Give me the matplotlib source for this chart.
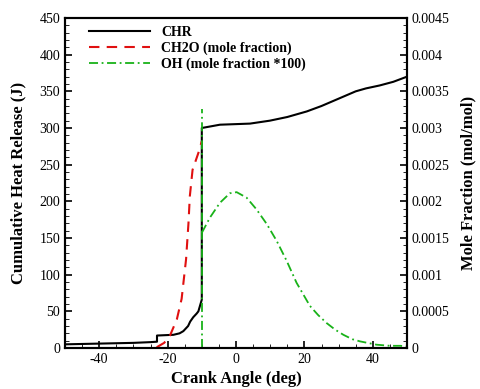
import matplotlib
matplotlib.use("Agg")
import matplotlib.pyplot as plt
from matplotlib.ticker import MultipleLocator

plt.rcParams['font.family'] = ['Liberation Serif', 'DejaVu Serif']
plt.rcParams['axes.unicode_minus'] = False

# CHR (J) vs crank angle
chr_x = [-50, -40, -30, -25, -23.1, -23.1, -18.3, -16.5, -15.4, -14, -13.4, -12.5, -11.5, -11, -10.5, -10,
         -10, -4.7, 1.2, 4.1, 9.9, 15, 20.7, 25, 30, 35, 38, 42, 46, 50]
chr_y = [5, 6, 7, 8, 8.6, 17, 18, 20, 23, 30, 36, 42, 47, 50, 58, 66,
         300, 304.5, 305.5, 306, 310, 315, 322.6, 330, 340, 350, 354, 358, 363, 370]

# CH2O mole fraction
ch2o_x = [-23.2, -21, -19.3, -17.3, -15.9, -14.6, -13.9, -13.5, -12.7, -11, -10]
ch2o_y = [0.00001, 0.00007, 0.00017, 0.00039, 0.00067, 0.00121, 0.00170, 0.00207, 0.00243, 0.00266, 0.00282]

# OH mole fraction *100
oh_spike_x = [-10, -10]
oh_spike_y = [0.0, 0.00326]
oh_x = [-10, -7.6, -4.7, -1.8, 0.2, 3.1, 6.0, 9.0, 11.9, 14.8, 17.7, 21.6, 24, 26.5, 29, 31.4, 34, 36.3, 41.1, 45, 48.1, 50]
oh_y = [0.00157, 0.00178, 0.00198, 0.00211, 0.002125, 0.00205, 0.00189, 0.00169, 0.00146, 0.00119, 0.00089, 0.000575,
        0.00045, 0.00034, 0.00025, 0.00018, 0.00012, 0.00009, 0.000045, 0.00003, 0.00003, 0.00002]

fig = plt.figure(figsize=(4.81, 3.89), dpi=100)
ax = fig.add_axes([65/481, 1-348/389, (407-65)/481, (348-18)/389])
ax2 = ax.twinx()

red = '#e01010'
green = '#19b219'

l1, = ax.plot(chr_x, chr_y, color='black', lw=1.5, label='CHR')
l2, = ax2.plot(ch2o_x, ch2o_y, color=red, lw=1.5, ls=(0, (5, 3.5)), label='CH2O (mole fraction)')
l3, = ax2.plot(oh_x, oh_y, color=green, lw=1.3, ls=(0, (5, 2, 1, 2)), label='OH (mole fraction *100)')
ax2.plot(oh_spike_x, oh_spike_y, color=green, lw=1.3, ls=(0, (5, 2, 1, 2)))

ax.set_xlim(-50, 50)
ax.set_ylim(0, 450)
ax2.set_ylim(0, 0.0045)

ax.xaxis.set_major_locator(MultipleLocator(20))
ax.xaxis.set_minor_locator(MultipleLocator(5))
ax.yaxis.set_major_locator(MultipleLocator(50))
ax.yaxis.set_minor_locator(MultipleLocator(10))
ax2.yaxis.set_minor_locator(MultipleLocator(0.0001))

ax2.set_yticks([0, 0.0005, 0.001, 0.0015, 0.002, 0.0025, 0.003, 0.0035, 0.004, 0.0045])
ax2.set_yticklabels(['0', '0.0005', '0.001', '0.0015', '0.002', '0.0025', '0.003', '0.0035', '0.004', '0.0045'])

for a in (ax, ax2):
    a.tick_params(which='major', direction='in', length=5, width=1.2, labelsize=10)
    a.tick_params(which='minor', direction='in', length=3, width=0.6)
    for s in a.spines.values():
        s.set_linewidth(1.5)
ax.tick_params(axis='x', which='both', top=False)
ax.tick_params(axis='y', which='both', right=False)

ax.set_xlabel('Crank Angle (deg)', fontsize=12, fontweight='bold', labelpad=4)
ax.set_ylabel('Cumulative Heat Release (J)', fontsize=12, fontweight='bold', labelpad=9)
ax2.set_ylabel('Mole Fraction (mol/mol)', fontsize=12, fontweight='bold', labelpad=8)

leg = ax.legend(handles=[l1, l2, l3], loc='upper left', frameon=False,
                prop={'weight': 'bold', 'size': 10}, handlelength=4.4,
                handletextpad=0.8, labelspacing=0.18, borderaxespad=0.2,
                bbox_to_anchor=(0.045, 1.0))

fig.savefig('out.png', dpi=100)
